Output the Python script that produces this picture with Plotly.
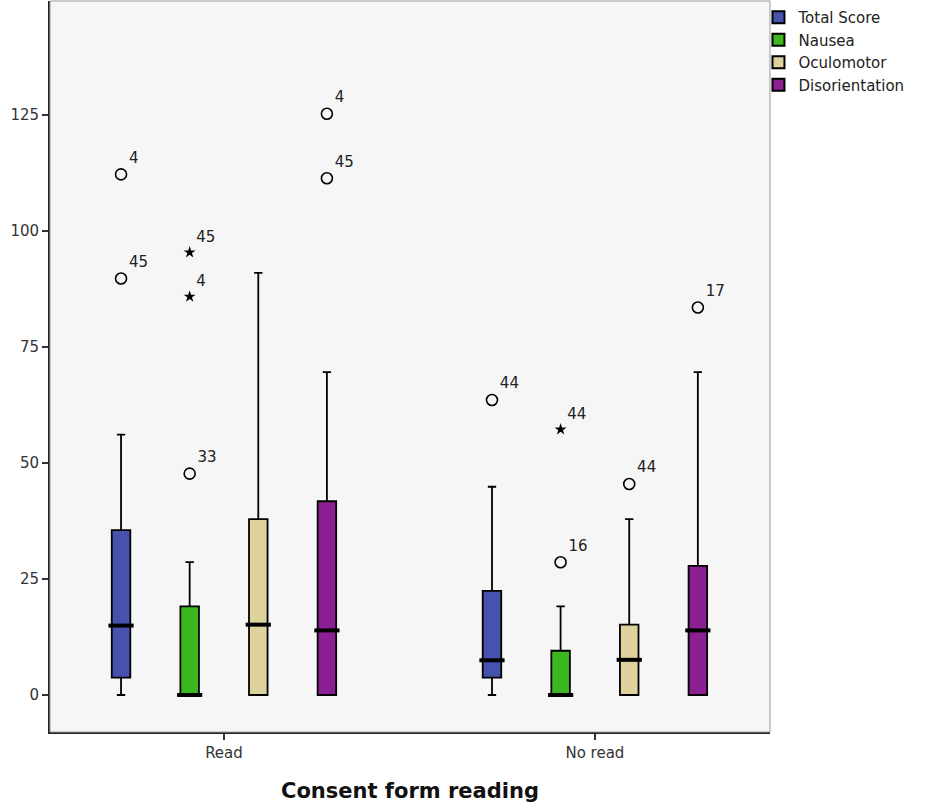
import plotly.graph_objects as go

# ---------------- data ----------------
groups = ["Read", "No read"]
series = ["Total Score", "Nausea", "Oculomotor", "Disorientation"]
colors = ["#4652AE", "#3DB71F", "#DDD29B", "#8A2091"]

# per series: values for [Read, No read]
lower = {
    "Total Score": [0.0, 0.0],
    "Nausea": [0.0, 0.0],
    "Oculomotor": [0.0, 0.0],
    "Disorientation": [0.0, 0.0],
}
q1 = {
    "Total Score": [3.74, 3.74],
    "Nausea": [0.0, 0.0],
    "Oculomotor": [0.0, 0.0],
    "Disorientation": [0.0, 0.0],
}
median = {
    "Total Score": [14.96, 7.48],
    "Nausea": [0.0, 0.0],
    "Oculomotor": [15.16, 7.58],
    "Disorientation": [13.92, 13.92],
}
q3 = {
    "Total Score": [35.53, 22.44],
    "Nausea": [19.08, 9.54],
    "Oculomotor": [37.90, 15.16],
    "Disorientation": [41.76, 27.84],
}
upper = {
    "Total Score": [56.10, 44.88],
    "Nausea": [28.62, 19.08],
    "Oculomotor": [90.96, 37.90],
    "Disorientation": [69.60, 69.60],
}

# outliers
outlier_group = [0, 0, 0, 0, 0, 0, 0, 1, 1, 1, 1, 1]
outlier_series = ["Total Score", "Total Score", "Nausea", "Nausea", "Nausea",
                  "Disorientation", "Disorientation",
                  "Total Score", "Nausea", "Nausea", "Oculomotor", "Disorientation"]
outlier_value = [112.2, 89.76, 95.4, 85.86, 47.7, 125.28, 111.36,
                 63.58, 57.24, 28.62, 45.48, 83.52]
outlier_label = ["4", "45", "45", "4", "33", "4", "45", "44", "44", "16", "44", "17"]
outlier_kind = ["circle", "circle", "star", "star", "circle", "circle", "circle",
                "circle", "star", "circle", "circle", "circle"]

y_ticks = [0, 25, 50, 75, 100, 125]

# ---------------- layout helpers ----------------
slot = 0.185      # spacing between boxes inside a group (x units)
box_w = 0.05


def xpos(g, s_idx):
    return g + (s_idx - 1.5) * slot


fig = go.Figure()

for si, name in enumerate(series):
    xs = [xpos(g, si) for g in range(len(groups))]
    fig.add_trace(go.Box(
        x=xs,
        q1=q1[name], median=median[name], q3=q3[name],
        lowerfence=lower[name], upperfence=upper[name],
        name=name,
        fillcolor=colors[si],
        line=dict(color="black", width=1.8),
        width=box_w,
        whiskerwidth=0.45,
        boxpoints=False,
        hoverinfo="skip",
        showlegend=True,
    ))
    # thick median bars
    fig.add_trace(go.Scatter(
        x=xs, y=median[name], mode="markers",
        marker=dict(symbol="line-ew-open", size=18, color="black",
                    line=dict(color="black", width=4)),
        showlegend=False, hoverinfo="skip",
    ))

# outliers
for kind in ["circle", "star"]:
    idx = [i for i in range(len(outlier_value)) if outlier_kind[i] == kind]
    xs = [xpos(outlier_group[i], series.index(outlier_series[i])) for i in idx]
    ys = [outlier_value[i] for i in idx]
    txt = [outlier_label[i] for i in idx]
    if kind == "circle":
        marker = dict(symbol="circle-open", size=11,
                      line=dict(color="black", width=1.6), color="black")
    else:
        marker = dict(symbol="star", size=9, color="black",
                      line=dict(width=0))
    fig.add_trace(go.Scatter(
        x=xs, y=ys, mode="markers+text", text=txt,
        textposition="top right",
        textfont=dict(size=15, color="#222222", family="DejaVu Sans"),
        marker=marker, showlegend=False, hoverinfo="skip",
        cliponaxis=False,
    ))

px_per_unit = 116 / 25.0
fig.update_layout(
    width=926, height=806,
    margin=dict(l=50, r=156, t=1, b=74),
    paper_bgcolor="white",
    plot_bgcolor="#F6F6F6",
    font=dict(family="DejaVu Sans", size=14, color="#333333"),
    legend=dict(
        x=0.984, y=1.0, xanchor="left", yanchor="top",
        font=dict(size=15, color="#222222", family="DejaVu Sans"),
        tracegroupgap=0, itemsizing="constant",
        bgcolor="rgba(0,0,0,0)",
        traceorder="normal",
    ),
    xaxis=dict(
        range=[-0.469, 1.472],
        tickvals=[0, 1], ticktext=groups,
        tickfont=dict(size=15),
        ticks="outside", ticklen=6, tickwidth=1.5, tickcolor="#333333",
        showgrid=False, zeroline=False,
        showline=True, linecolor="#222222", linewidth=1.8,
        title=dict(text="<b>Consent form reading</b>",
                   font=dict(size=21, color="#111111", family="DejaVu Sans"),
                   standoff=22),
    ),
    yaxis=dict(
        range=[-37 / px_per_unit, 694 / px_per_unit],
        tickvals=y_ticks,
        tickfont=dict(size=15),
        ticks="outside", ticklen=6, tickwidth=1.5, tickcolor="#333333",
        showgrid=False, zeroline=False,
        showline=True, linecolor="#222222", linewidth=1.8,
    ),
    shapes=[dict(type="rect", xref="paper", yref="paper", x0=0, x1=1, y0=0, y1=1,
                 line=dict(color="#9A9A9A", width=1), layer="above")],
)

fig.write_html("out.html", config={"displayModeBar": False},
               post_script="document.body.style.margin='0';")
